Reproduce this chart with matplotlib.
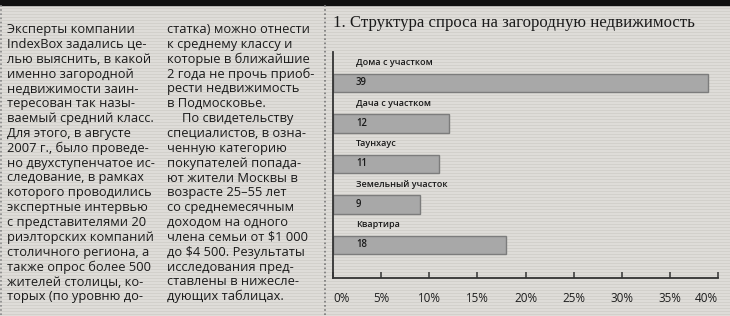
import os
import numpy as np
import matplotlib.pyplot as plt
from matplotlib import font_manager as fm
from matplotlib.colors import ListedColormap

plt.switch_backend('Agg')

# данные графика
categories = ['Дома с участком', 'Дача с участком', 'Таунхаус', 'Земельный участок', 'Квартира']
values = [39, 12, 11, 9, 18]
ticks = [0, 5, 10, 15, 20, 25, 30, 35, 40]
tick_labels = ['0%', '5%', '10%', '15%', '20%', '25%', '30%', '35%', '40%']
title = '1. Структура спроса на загородную недвижимость'

col1 = [
    'Эксперты компании',
    'IndexBox задались це-',
    'лью выяснить, в какой',
    'именно загородной',
    'недвижимости заин-',
    'тересован так назы-',
    'ваемый средний класс.',
    'Для этого, в августе',
    '2007 г., было проведе-',
    'но двухступенчатое ис-',
    'следование, в рамках',
    'которого проводились',
    'экспертные интервью',
    'с представителями 20',
    'риэлторских компаний',
    'столичного региона, а',
    'также опрос более 500',
    'жителей столицы, ко-',
    'торых (по уровню до-',
]
col2 = [
    'статка) можно отнести',
    'к среднему классу и',
    'которые в ближайшие',
    '2 года не прочь приоб-',
    'рести недвижимость',
    'в Подмосковье.',
    'По свидетельству',
    'специалистов, в озна-',
    'ченную категорию',
    'покупателей попада-',
    'ют жители Москвы в',
    'возрасте 25–55 лет',
    'со среднемесячным',
    'доходом на одного',
    'члена семьи от $1 000',
    'до $4 500. Результаты',
    'исследования пред-',
    'ставлены в нижесле-',
    'дующих таблицах.',
]

# шрифты берём по имени файла, чтобы не было сюрпризов с подбором
_files = fm.findSystemFonts()


def font(names, family, size, weight='normal'):
    for n in names:
        for f in _files:
            if os.path.basename(f).lower() == n.lower():
                return fm.FontProperties(fname=f, size=size)
    return fm.FontProperties(family=family, size=size, weight=weight)


serif_fp = font(['LiberationSerif-Regular.ttf'], ['Liberation Serif', 'DejaVu Serif'], 12.6)
body_fp = font(['NotoSans-Regular.ttf', 'OpenSans-Regular.ttf'], ['Noto Sans', 'DejaVu Sans'], 9.3)
label_fp = font(['NotoSans-SemiBold.ttf', 'NotoSans-Medium.ttf', 'OpenSans-SemiBold.ttf'],
                ['Noto Sans', 'DejaVu Sans'], 6.5, 'semibold')
value_fp = label_fp.copy()
value_fp.set_size(6.9)
tick_fp = body_fp.copy()
tick_fp.set_size(8.4)

W, H = 730, 316
fig = plt.figure(figsize=(W / 100, H / 100), dpi=100)
fig.patch.set_facecolor('#dcdad5')

# фон с полосками как на скане
bg = fig.add_axes([0, 0, 1, 1], zorder=0)
rows = np.array([[0.0], [0.0], [1.0]] * (H // 3 + 1))[:H]
bg.imshow(rows, cmap=ListedColormap(['#dedcd8', '#d2d0cb']),
          aspect='auto', interpolation='nearest', extent=[0, W, H, 0])
bg.set_xlim(0, W)
bg.set_ylim(H, 0)
bg.axis('off')

# чёрная полоса сверху и пунктирные линии
bg.fill_between([0, W], 0, 4.5, color='#111111')
bg.plot([325, 325], [5, H], color='#777777', lw=1.2, ls=(0, (1, 1.5)))
bg.plot([1, 1], [5, H], color='#888888', lw=1.2, ls=(0, (1, 1.5)))

# текстовые колонки
for k, line in enumerate(col1):
    bg.text(7, 33 + 14.85 * k, line, fontproperties=body_fp,
            color='#1a1a1a', va='baseline', ha='left')
for k, line in enumerate(col2):
    x = 182 if k == 6 else 167
    bg.text(x, 33 + 14.85 * k, line, fontproperties=body_fp,
            color='#1a1a1a', va='baseline', ha='left')

# заголовок; подгоняем кегль под ширину ~359 px
t = bg.text(333, 27, title, fontproperties=serif_fp,
            color='#1a1a1a', va='baseline', ha='left')
renderer = fig.canvas.get_renderer()
w = t.get_window_extent(renderer).width
if w > 0:
    t.set_fontsize(serif_fp.get_size() * 359 / w)

# диаграмма
ax = fig.add_axes([333 / W, 1 - 278 / H, 385 / W, 226 / H], zorder=2)
ax.set_facecolor('none')
y = np.arange(len(categories))
ax.barh(y, values, height=0.45, color='#a8a8a8', edgecolor='#7c7c7c', linewidth=1.0)
ax.set_xlim(0, 40)
ax.set_ylim(len(categories) - 1 + 0.815, -0.765)

for i, (cat, v) in enumerate(zip(categories, values)):
    ax.annotate(str(v), xy=(0, i), xytext=(16.5, 0), textcoords='offset points',
                fontproperties=value_fp, color='#1a1a1a', va='center', ha='left')
    ax.annotate(cat, xy=(0, i - 0.5), xytext=(16.5, 0), textcoords='offset points',
                fontproperties=label_fp, color='#1a1a1a', va='center', ha='left')

for s in ['top', 'right']:
    ax.spines[s].set_visible(False)
for s in ['left', 'bottom']:
    ax.spines[s].set_color('#333333')
    ax.spines[s].set_linewidth(1.3)

ax.set_yticks([])
ax.set_xticks(ticks)
ax.set_xticklabels(tick_labels, color='#1e1e1e')
for lbl in ax.get_xticklabels():
    lbl.set_fontproperties(tick_fp)
ax.tick_params(axis='x', direction='in', length=4.5, width=1.1, color='#333333', pad=10)
ax.get_xticklabels()[0].set_ha('left')
ax.get_xticklabels()[-1].set_ha('right')
ax.get_xticklabels()[-1].set_x(40.35)

fig.savefig('out.png', dpi=100, facecolor=fig.get_facecolor())
